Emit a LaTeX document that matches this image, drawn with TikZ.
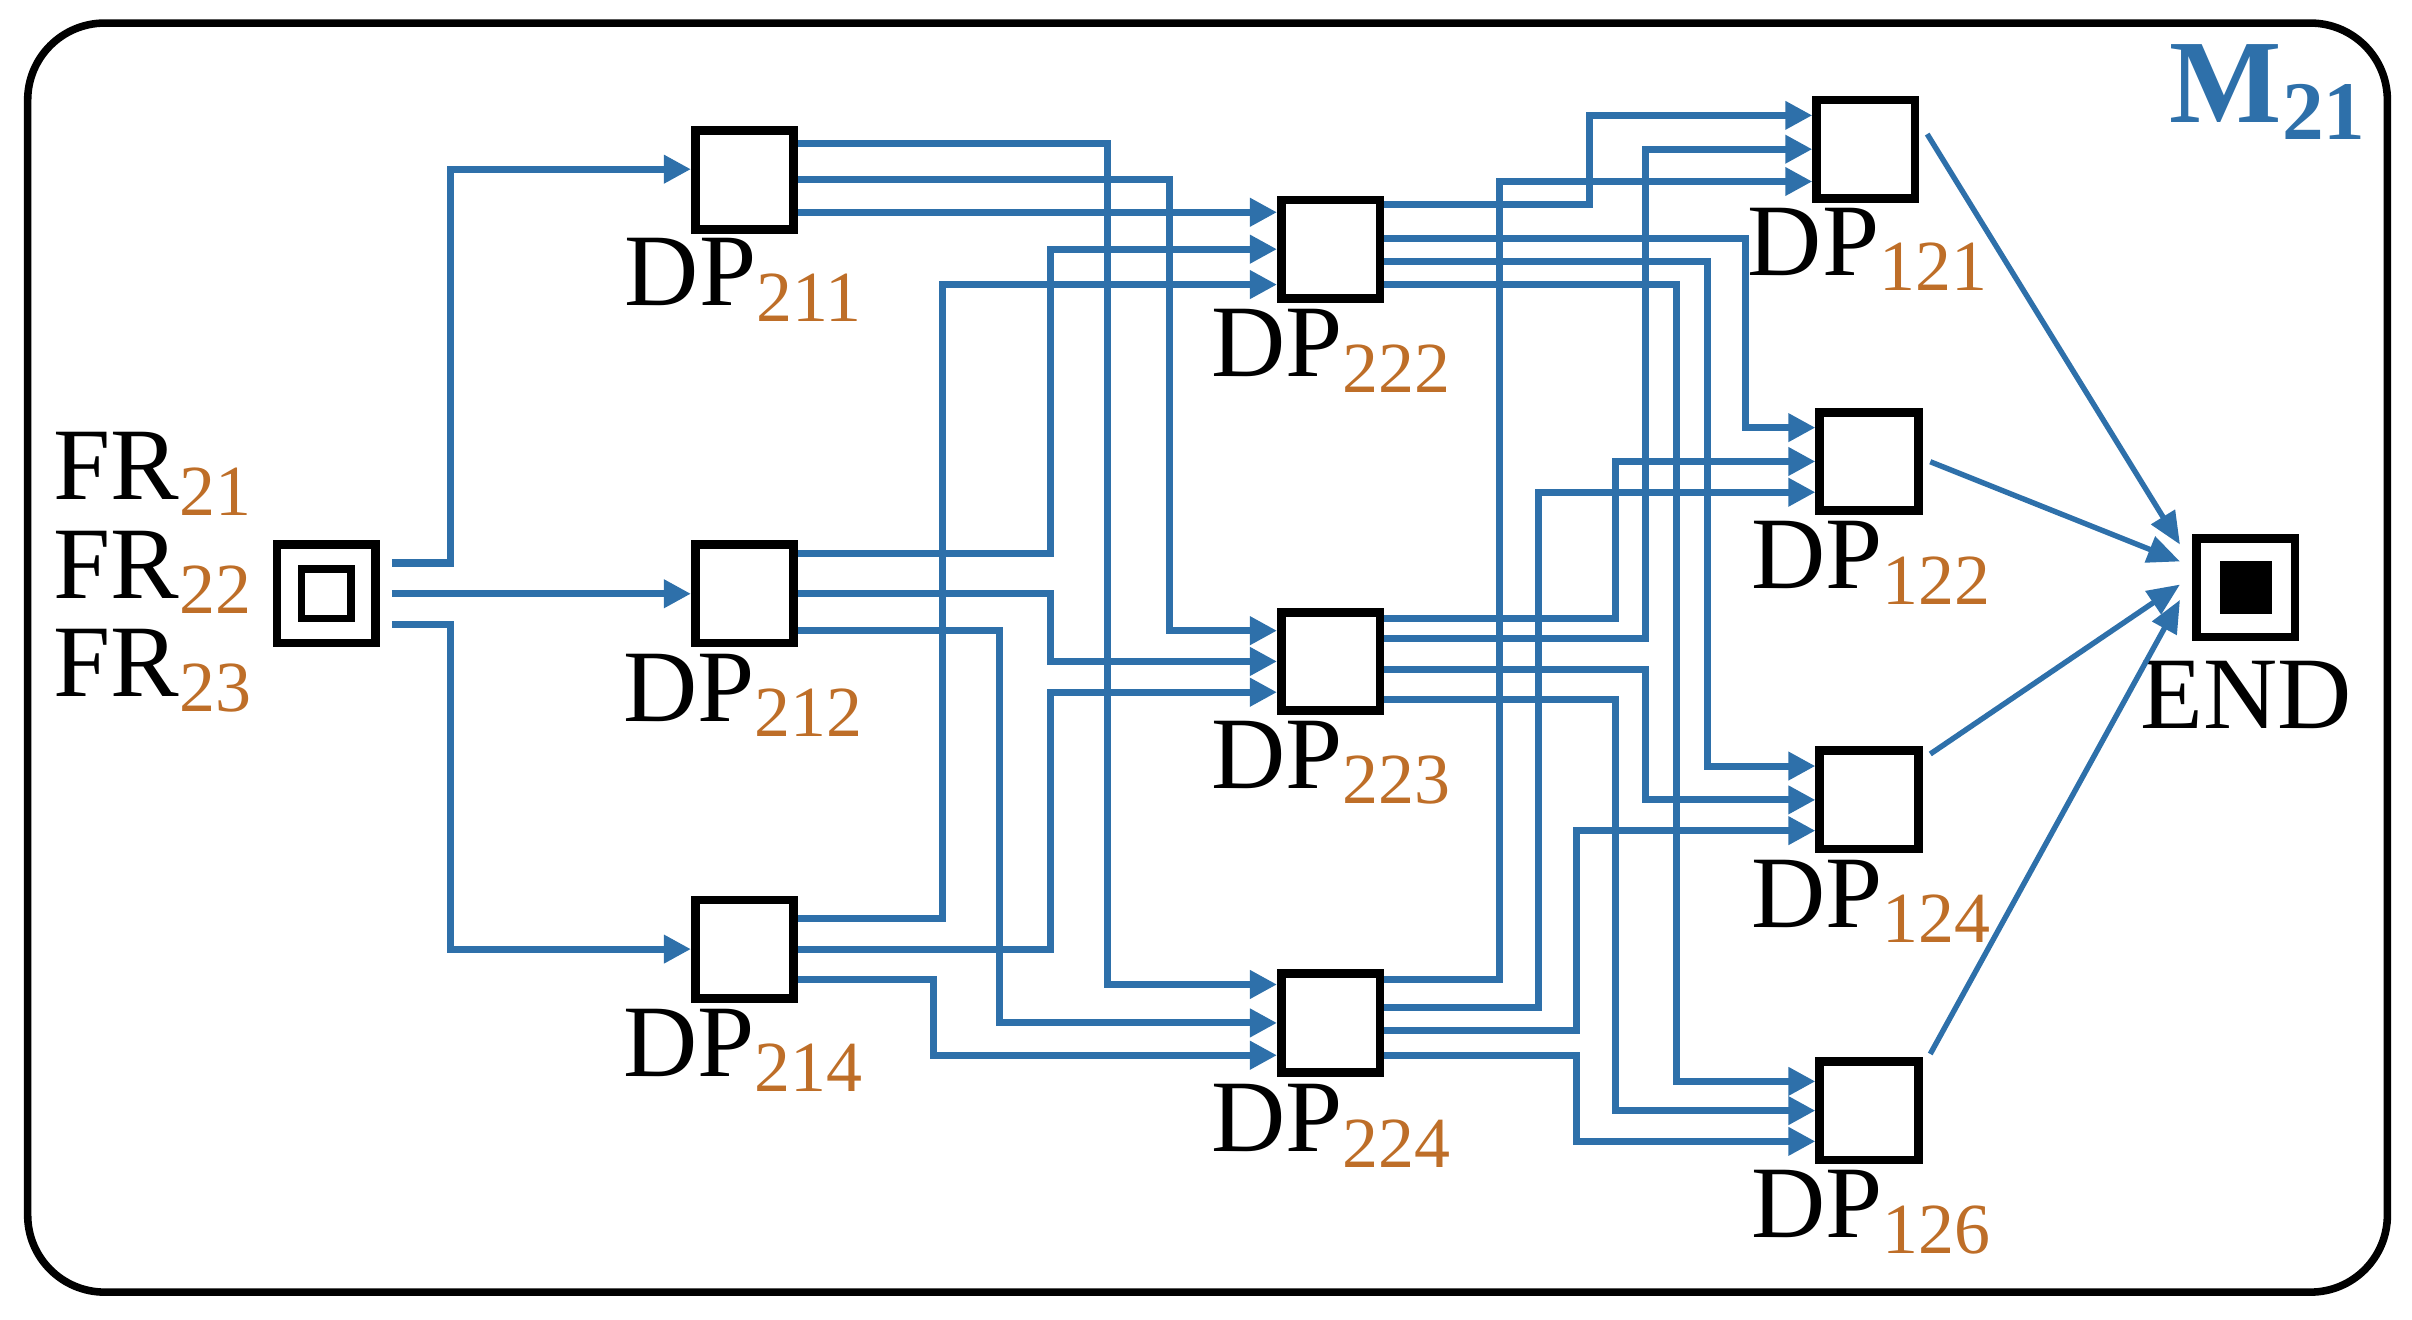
\documentclass[tikz,border=0pt]{standalone}
\usepackage{fontspec}
\setmainfont{Liberation Serif}
\usetikzlibrary{calc,arrows.meta}
\definecolor{ln}{RGB}{46,112,170}
\definecolor{sb}{RGB}{190,110,40}
\begin{document}
\begin{tikzpicture}[x=0.01cm,y=-0.01cm,
 box/.style={draw,line width=1.6pt,minimum size=0.64cm,inner sep=0},
 w/.style={ln,line width=1.3pt,-{Triangle[length=5pt,width=5pt]}},
 t/.style={ln,line width=1pt,-{Triangle[length=6pt,width=5pt]}},
 lab/.style={font=\fontsize{19}{21}\selectfont,inner sep=0}]
\useasboundingbox (0,0) rectangle (1568,858);
\draw[line width=1.4pt,rounded corners=0.5cm] (18,15) rectangle (1552,840);
\node[ln,font=\fontsize{22}{24}\selectfont\bfseries] (m) at (1475,60) {M\textsubscript{21}};
\newcommand\dpl[1]{DP\textsubscript{\textcolor{sb}{#1}}}
\node[lab] (f1) at (100,308) {FR\textsubscript{\textcolor{sb}{21}}};
\node[lab] (f2) at (100,372) {FR\textsubscript{\textcolor{sb}{22}}};
\node[lab] (f3) at (100,436) {FR\textsubscript{\textcolor{sb}{23}}};
\node[box] (s) at (212,386) {};
\node[draw,line width=1.4pt,minimum size=0.32cm,inner sep=0] (si) at (212,386) {};
\node[box] (a1) at (484,117) {};
\node[box] (a2) at (484,386) {};
\node[box] (a4) at (484,617) {};
\node[box] (b2) at (865,162) {};
\node[box] (b3) at (865,430) {};
\node[box] (b4) at (865,665) {};
\node[box] (c1) at (1213,97) {};
\node[box] (c2) at (1215,300) {};
\node[box] (c4) at (1215,520) {};
\node[box] (c6) at (1215,722) {};
\node[box] (e) at (1460,382) {};
\node[fill,minimum size=0.34cm,inner sep=0] (ei) at (1460,382) {};
\node[lab] (la1) at (484,182) {\dpl{211}};
\node[lab] (la2) at (484,452) {\dpl{212}};
\node[lab] (la4) at (484,683) {\dpl{214}};
\node[lab] (lb2) at (866,228) {\dpl{222}};
\node[lab] (lb3) at (866,496) {\dpl{223}};
\node[lab] (lb4) at (866,732) {\dpl{224}};
\node[lab] (lc1) at (1215,162) {\dpl{121}};
\node[lab] (lc2) at (1217,366) {\dpl{122}};
\node[lab] (lc4) at (1217,586) {\dpl{124}};
\node[lab] (lc6) at (1217,788) {\dpl{126}};
\node[lab] (le) at (1460,452) {END};
% start
\draw[w] ($(s.east)+(8,-20)$) -- (293,366) -- (293,110) -- ($(a1.west)+(0,-7)$);
\draw[w] ($(s.east)+(8,0)$) -- (a2.west);
\draw[w] ($(s.east)+(8,20)$) -- (293,406) -- (293,617) -- (a4.west);
% DP211
\draw[w] ($(a1.east)+(0,-24)$) -- (720,93) -- (720,640) -- ($(b4.west)+(0,-25)$);
\draw[w] ($(a1.east)+(0,0)$) -- (760,117) -- (760,410) -- ($(b3.west)+(0,-20)$);
\draw[w] ($(a1.east)+(0,21)$) -- ($(b2.west)+(0,-24)$);
% DP212
\draw[w] ($(a2.east)+(0,-26)$) -- (683,360) -- (683,162) -- (b2.west);
\draw[w] ($(a2.east)+(0,0)$) -- (683,386) -- (683,430) -- (b3.west);
\draw[w] ($(a2.east)+(0,24)$) -- (650,410) -- (650,665) -- (b4.west);
% DP214
\draw[w] ($(a4.east)+(0,-20)$) -- (613,597) -- (613,185) -- ($(b2.west)+(0,23)$);
\draw[w] ($(a4.east)+(0,0)$) -- (683,617) -- (683,450) -- ($(b3.west)+(0,20)$);
\draw[w] ($(a4.east)+(0,20)$) -- (607,637) -- (607,686) -- ($(b4.west)+(0,21)$);
% DP222
\draw[w] ($(b2.east)+(0,-29)$) -- (1033,133) -- (1033,75) -- ($(c1.west)+(0,-22)$);
\draw[w] ($(b2.east)+(0,-7)$) -- (1135,155) -- (1135,278) -- ($(c2.west)+(0,-22)$);
\draw[w] ($(b2.east)+(0,8)$) -- (1110,170) -- (1110,498) -- ($(c4.west)+(0,-22)$);
\draw[w] ($(b2.east)+(0,23)$) -- (1090,185) -- (1090,703) -- ($(c6.west)+(0,-19)$);
% DP223
\draw[w] ($(b3.east)+(0,-28)$) -- (1050,402) -- (1050,300) -- (c2.west);
\draw[w] ($(b3.east)+(0,-15)$) -- (1070,415) -- (1070,97) -- (c1.west);
\draw[w] ($(b3.east)+(0,5)$) -- (1070,435) -- (1070,520) -- (c4.west);
\draw[w] ($(b3.east)+(0,25)$) -- (1050,455) -- (1050,722) -- (c6.west);
% DP224
\draw[w] ($(b4.east)+(0,-28)$) -- (975,637) -- (975,118) -- ($(c1.west)+(0,21)$);
\draw[w] ($(b4.east)+(0,-10)$) -- (1000,655) -- (1000,320) -- ($(c2.west)+(0,20)$);
\draw[w] ($(b4.east)+(0,5)$) -- (1025,670) -- (1025,540) -- ($(c4.west)+(0,20)$);
\draw[w] ($(b4.east)+(0,21)$) -- (1025,686) -- (1025,742) -- ($(c6.west)+(0,20)$);
% to END
\draw[t] ($(c1.north east)+(5,25)$) -- ($(e.west)+(-8,-28)$);
\draw[t] ($(c2.north east)+(5,35)$) -- ($(e.west)+(-8,-17)$);
\draw[t] ($(c4.north east)+(5,5)$) -- ($(e.west)+(-8,-2)$);
\draw[t] ($(c6.north east)+(5,-2)$) -- ($(e.west)+(-8,8)$);
\end{tikzpicture}
\end{document}
